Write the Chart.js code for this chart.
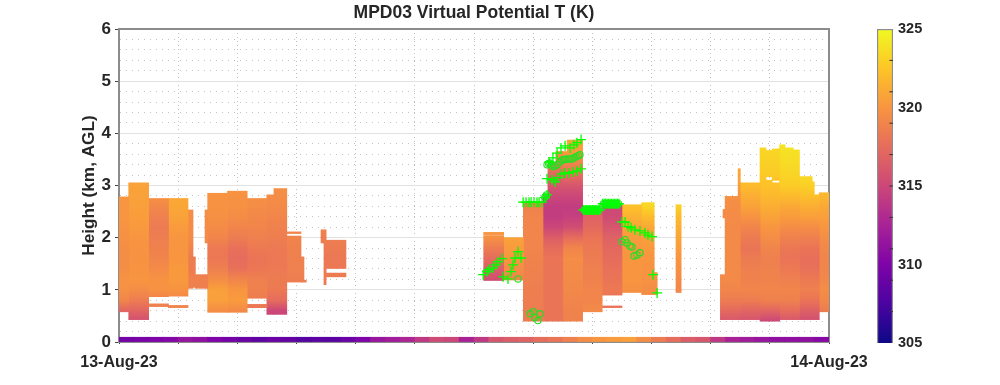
<!DOCTYPE html>
<html>
<head>
<meta charset="utf-8">
<script src="https://cdn.jsdelivr.net/npm/chart.js@4/dist/chart.umd.min.js"></script>
<style>
html,body{margin:0;padding:0;background:#fff;overflow:hidden}
#wrap{position:relative;width:1000px;height:385px}
#mainChart{position:absolute;left:0;top:0}
#barChart{position:absolute;left:860px;top:0}
</style>
</head>
<body>
<div id="wrap">
<canvas id="mainChart" width="948" height="385"></canvas>
<canvas id="barChart" width="140" height="385"></canvas>
</div>
<script>
// temperature nodes (K) of each profile, at 0.4, 0.6, ... 4.0 km
const heightNodes=[0.4,0.6,0.8,1.0,1.2,1.4,1.6,1.8,2.0,2.2,2.4,2.6,2.8,3.0,3.2,3.4,3.6,3.8,4.0];
const profiles=[
[null,317,319,319.7,319.8,319.6,319.5,319.6,319.7,319.9,320,320,320,320.2],
[315.5,317,318.5,319.5,320,319.9,319.8,319.9,320,320.2,320.4,320.5,320.6,320.7],
[null,null,318.7,319.8,319.8,319.4,319,318.8,318.6,318.4,318.7,319.2,319.8],
[null,null,319,319.8,320.2,320.2,320,320,320,320.3,320.7,320.9,321],
[null,null,null,318.6,318.8,318.5,318.5,319,319.3,319.4,319.5,319.6],
[null,319.5,320.5,320.5,319.5,318.7,318.2,318.3,319,319.4,319.7,319.8,319.9,320],
[null,319.3,320.3,320,319,317.8,317.5,317.8,318.5,319,319.5,319.7,319.8,320],
[null,318,318.5,318.8,318.7,318.2,318,318.3,318.7,319,319.2,319.5,319.7],
[null,315,317.5,318.3,318.5,318.3,318.2,318.3,318.6,318.8,319,319.3,319.5,319.7],
[null,null,null,318.4,318.6,318.7,318.7,318.8,319,319],
[null,null,null,318.3,318.5,318.3,318.2,318.4,318.6,319],
[null,null,null,null,315.5,316.5,317.5,318.5,319.7,320.3],
[null,null,null,null,319,319.5,320,320.3,320.7],
[318.5,318.5,318.6,318.6,318.7,318.8,318.9,319,319,319,319,318.8,318.7],
[318,318,318,318,318,318,318,317.5,316.5,315,314.3,314.3,315,316,317,318.5,319.5],
[318.8,318.9,319,319.2,319.3,319.4,319.5,319,317.5,315.5,314.5,314.3,315,316,317.5,318.8,320,320.7,320.9],
[null,319.3,319,319,318.8,318.7,318.5,318.3,318,317.3,316.8,316.5],
[null,318,318,318.3,318,317.8,317.5,317.2,316.8,316,315.3,315],
[null,null,null,319.7,320,320,320,320.1,320.3,320.8,321.5,322.3],
[null,null,null,319.5,319.8,319.9,320,320.2,320.5,321,322,323.3,323.8],
[null,null,null,319.2,319.4,319.7,320,320.4,320.8,321.3,322,323],
[316,317.3,318.5,319,319.3,319.3,319.3,319.3,319.3,319.3,319.4,319.5,319.7,320.5,320.8],
[315.8,317,318.5,319,318.8,318.7,318.4,318,318.4,319,319.8,320.7,321.3,322],
[315,317,318.8,319,318.9,318.8,318.7,319,319.5,320,320.7,321.3,321.8,322.3,322.7,323,323.2,323.3],
[316,317.5,318.7,319,318.7,318.3,318,318.2,318.8,319.5,320.3,321,322,322.8,323.2,323.5,323.8,324],
[315.5,316.7,318,318.7,318.3,317.8,317.7,318,318.7,319.5,320.5,321.3,322.2,323,323.5],
[null,318.5,319.2,319.5,319.2,319,319,319.2,319.5,320,320.5,321,321.7,322]
];
// curtain sections: time span (h), height span (km) and the profile they show
const sectionFrom=[0,.33,1,1,1.67,1.67,2.33,2.5,2.58,2.91,2.91,3,3.67,4.33,4.33,5,5.24,5.67,5.67,6.15,6.25,6.83,6.93,7,7,12.33,12.33,13,13.67,14.33,14.5,14.77,15,15.15,15.67,16.33,16.33,17,17.67,18.09,18.83,20.33,20.42,20.49,20.93,21,21.67,21.87,21.87,22.08,22.08,22.33,22.51,22.79,23,23.43,23.5,23.67];
const sectionTo=[.33,1,1.67,1.67,2.33,2.33,2.5,2.58,2.91,3,3,3.67,4.33,5,5,5.24,5.67,6.15,6.15,6.25,6.33,7,7,7.67,7.67,13,13,13.67,14.33,14.5,14.77,15,15.15,15.67,16.33,17,17,17.67,18.09,18.19,19,20.49,20.49,20.93,21,21.67,21.87,22.08,22.08,22.33,22.33,22.51,22.79,23,23.43,23.5,23.67,24];
const sectionBottom=[.58,.43,.87,.68,.88,.66,1.03,1.05,1.03,1.03,1.9,.57,.57,.84,.66,.53,.53,1.15,2.08,1.15,1.15,1.9,1.1,1.41,1.25,1.18,2.06,1.19,.4,.4,.4,.4,.4,.4,.58,.9,.66,.95,.91,.91,.95,.43,2.38,.43,.43,.43,.39,.39,3.17,.39,3.1,.43,.43,.43,.43,.43,.43,.58];
const sectionTop=[2.78,3.05,2.75,.73,2.75,.7,2.53,1.63,1.29,1.29,2.53,2.85,2.89,2.75,.72,2.82,2.94,2.03,2.11,1.63,1.18,2.15,1.9,1.95,1.32,2.04,2.1,2,2.68,2.8,3.45,3.65,3.65,3.87,2.55,2.63,.69,2.63,2.67,1.33,2.63,1.29,2.54,2.79,3.32,3.05,3.72,3.1,3.67,3.05,3.7,3.78,3.72,3.68,3.17,3.07,2.82,2.86];
const sectionProfile=[0,1,2,2,3,3,4,4,4,4,4,5,6,7,7,8,8,9,9,9,9,10,10,10,10,11,11,12,13,14,14,14,15,15,16,17,17,18,19,19,20,21,21,21,21,22,23,23,23,23,23,24,24,24,25,25,25,26];
// lowest 0.09 km, one value per half hour
const surfaceTemps=[309.5,309.7,310,310.3,311.3,311,310,309.5,309,308.5,309,308.7,308,308.3,308.2,309,310,311.5,312,312.7,314,315.3,315,312.5,314,316,316.5,316.8,317.5,318,318.7,319.5,320,320.3,320.5,319.5,318.5,317.5,316.5,316,314,312.5,312,311.5,311,311,311,310.5];
// green markers: hour, km
const plusHours=[13.66,13.76,13.86,13.93,14.03,14.13,14.2,14.3,14.4,14.47,14.47,14.64,14.74,14.84,14.97,15.08,15.21,15.35,15.48,15.62,14.54,14.67,14.81,14.94,15.08,15.25,15.38,15.48,15.62,15.7,15.75,15.8,15.85,15.9,15.95,16,16.05,16.1,16.15,16.2,16.25,16.35,16.4,16.45,16.5,16.55,16.6,16.65,16.7,16.75,16.8,16.85,16.9,17,17.11,17.21,17.31,17.44,17.61,17.78,17.88,18.02,18.05,18.19,12.31,12.44,12.51,12.64,12.74,12.81,12.95,13.49,13.39,13.59,13.32,13.25,12.98,13.15];
const plusKm=[2.68,2.68,2.68,2.68,2.68,2.68,2.68,2.68,2.77,2.82,3.13,3.11,3.07,3.15,3.22,3.24,3.24,3.26,3.28,3.32,3.45,3.53,3.62,3.72,3.76,3.72,3.78,3.82,3.88,2.53,2.53,2.53,2.53,2.53,2.53,2.53,2.53,2.53,2.53,2.53,2.53,2.65,2.65,2.65,2.65,2.65,2.65,2.65,2.65,2.65,2.65,2.65,2.65,2.3,2.3,2.21,2.19,2.15,2.13,2.09,2.05,2.02,1.29,.94,1.29,1.35,1.39,1.42,1.48,1.54,1.6,1.73,1.61,1.61,1.48,1.35,1.25,1.21];
const ringHours=[14.4,14.45,14.47,14.52,14.57,14.62,14.67,14.74,14.81,14.9,14.98,15.03,15.08,15.15,15.23,15.31,15.38,15.45,15.52,15.58,15.72,15.77,15.82,15.87,15.92,15.97,16.02,16.07,16.12,16.17,16.22,16.38,16.43,16.48,16.53,16.58,16.63,16.68,16.73,16.78,16.83,16.88,17,17.11,17.17,17.27,17.34,17.41,17.51,17.61,13.49,13.9,14,14.23,14.06,14.16];
const ringKm=[2.78,2.82,3.4,3.42,3.43,3.4,3.36,3.38,3.4,3.45,3.49,3.5,3.5,3.51,3.51,3.51,3.53,3.55,3.57,3.59,2.53,2.53,2.53,2.53,2.53,2.53,2.53,2.53,2.53,2.53,2.53,2.65,2.65,2.65,2.65,2.65,2.65,2.65,2.65,2.65,2.65,2.65,1.92,1.96,1.9,1.84,1.82,1.65,1.67,1.71,1.21,.54,.58,.54,.47,.41];
// colour bar
const barTicks=[305,310,315,320,325];
const barMinorTicks=[307,309,311,313,315,317,319,321,323];

const colorStops=['#0d0887','#4b03a1','#7e03a8','#a82296','#cc4778','#e66c5c','#f89540','#fdc527','#f0f921'];
const hexRgb=h=>[1,3,5].map(i=>parseInt(h.slice(i,i+2),16));
function tempColor(t){
  const f=Math.min(Math.max((t-305)/20,0),1)*(colorStops.length-1);
  const i=Math.min(Math.floor(f),colorStops.length-2), a=hexRgb(colorStops[i]), b=hexRgb(colorStops[i+1]);
  return 'rgb('+a.map((c,k)=>Math.round(c+(b[k]-c)*(f-i))).join(',')+')';
}

const PLOT_WIDTH=710, HOUR_PX=PLOT_WIDTH/24;
const axisGrey='#8c8c8c', textDark='#262626', FONT='"Liberation Sans", Arial, sans-serif';
const isWhole=v=>Math.abs(v-Math.round(v))<1e-6;

function rowFill(c){
  if(c.type!=='data'||!c.raw) return '#fff';
  const y=c.chart.scales.y, r=c.raw;
  const p0=y.getPixelForValue(r.km0), p1=y.getPixelForValue(r.km1);
  if(!isFinite(p0)||!isFinite(p1)) return tempColor(r.t0); // scale not laid out yet
  const g=c.chart.ctx.createLinearGradient(0,p0,0,p1);
  g.addColorStop(0,tempColor(r.t0)); g.addColorStop(1,tempColor(r.t1));
  return g;
}

const sectionSets=sectionFrom.map((from,s)=>{
  const to=sectionTo[s], p=profiles[sectionProfile[s]], rows=[];
  for(let i=0;i<heightNodes.length-1;i++){
    const lo=Math.max(sectionBottom[s],heightNodes[i]), hi=Math.min(sectionTop[s],heightNodes[i+1]);
    if(lo>=hi) continue;
    const a=p[i]??p[i+1]??p[i+2]??p[i+3], b=p[i+1]??a;
    rows.push({x:(from+to)/2,y:[lo,hi],km0:heightNodes[i],km1:heightNodes[i+1],t0:a,t1:b});
  }
  return {type:'bar',data:rows,barThickness:(to-from)*HOUR_PX,backgroundColor:rowFill,inflateAmount:0.4,grouped:false,order:2};
});
const surfaceSet={type:'bar',data:surfaceTemps.map((t,i)=>({x:i/2+0.25,y:[0,0.09]})),backgroundColor:surfaceTemps.map(tempColor),barThickness:HOUR_PX/2,inflateAmount:0.4,grouped:false,order:2};
const plusSet={type:'scatter',data:plusHours.map((h,i)=>({x:h,y:plusKm[i]})),pointStyle:'cross',radius:5,borderColor:'#00ff00',backgroundColor:'#00ff00',borderWidth:1.3,order:0};
const ringSet={type:'scatter',data:ringHours.map((h,i)=>({x:h,y:ringKm[i]})),pointStyle:'circle',radius:3.2,borderColor:'#22e022',backgroundColor:'rgba(0,0,0,0)',borderWidth:1.1,order:1};

const fixHeight=h=>s=>{s.height=h;s.paddingLeft=0;s.paddingRight=0;};
const fixWidth=w=>s=>{s.width=w;s.paddingTop=0;s.paddingBottom=0;};
const hourTicks=s=>{s.ticks=[0,2,4,6,8,10,12,14,16,18,20,22,24].map(v=>({value:v}));};

new Chart(document.getElementById('mainChart'),{
  type:'bar',
  data:{datasets:[...sectionSets,surfaceSet,ringSet,plusSet]},
  options:{
    responsive:false,animation:false,
    plugins:{legend:{display:false},tooltip:{enabled:false},
      title:{display:true,text:'MPD03 Virtual Potential T (K)',color:textDark,font:{family:FONT,size:17.5,weight:'bold'},padding:{top:3,bottom:5}}},
    scales:{
      x:{type:'linear',min:0,max:24,offset:false,position:'bottom',afterFit:fixHeight(43),afterBuildTicks:hourTicks,
        grid:{offset:false,color:'#c0c0c0',tickColor:'#444',tickLength:2,tickBorderDash:[]},
        border:{color:axisGrey,width:2,dash:[1,3]},
        ticks:{autoSkip:false,maxRotation:0,padding:9,color:textDark,font:{family:FONT,size:16,weight:'bold'},
          callback:v=>v===0?'13-Aug-23':v===24?'14-Aug-23':''}},
      xTop:{type:'linear',min:0,max:24,position:'top',afterFit:fixHeight(0),afterBuildTicks:hourTicks,
        grid:{drawOnChartArea:false,drawTicks:false},border:{color:axisGrey,width:2},ticks:{display:false}},
      y:{type:'linear',min:0,max:6,position:'left',afterFit:fixWidth(119),
        grid:{color:c=>isWhole(c.tick.value)?'#e2e2e2':'#c4c4c4',tickColor:c=>isWhole(c.tick.value)?'#444':'rgba(0,0,0,0)',tickLength:4,tickBorderDash:[]},
        border:{color:axisGrey,width:2,dash:c=>isWhole(c.tick.value)?[]:[1,5]},
        ticks:{stepSize:0.2,autoSkip:false,padding:4,color:textDark,font:{family:FONT,size:17,weight:'bold'},
          callback:v=>isWhole(v)?String(Math.round(v)):''},
        title:{display:true,text:'Height (km, AGL)',color:textDark,font:{family:FONT,size:17.2,weight:'bold'},padding:{top:79,bottom:0}}},
      yRight:{type:'linear',min:0,max:6,position:'right',afterFit:fixWidth(119),
        grid:{drawOnChartArea:false,drawTicks:false},border:{color:axisGrey,width:2},ticks:{display:false}}
    }
  }
});

new Chart(document.getElementById('barChart'),{
  type:'bar',
  data:{datasets:[
    {type:'scatter',data:barMinorTicks.map(v=>({x:0.9,y:v})),pointStyle:'line',radius:2,borderColor:'#333',borderWidth:1,order:0},
    {type:'bar',data:[{x:0.5,y:[305,325]}],barThickness:16,grouped:false,borderColor:axisGrey,borderWidth:1.5,order:1,
      backgroundColor:c=>{
        const y=c.chart.scales.y, p0=y.getPixelForValue(305), p1=y.getPixelForValue(325);
        if(!isFinite(p0)||!isFinite(p1)) return colorStops[0];
        const g=c.chart.ctx.createLinearGradient(0,p0,0,p1);
        colorStops.forEach((col,i)=>g.addColorStop(i/(colorStops.length-1),col));
        return g;
      }}
  ]},
  options:{
    responsive:false,animation:false,
    layout:{padding:{left:17,top:29,bottom:42,right:67}},
    plugins:{legend:{display:false},tooltip:{enabled:false}},
    scales:{
      x:{type:'linear',min:0,max:1,offset:false,display:false,grid:{offset:false}},
      y:{type:'linear',min:305,max:325,position:'right',afterFit:fixWidth(40),
        afterBuildTicks:s=>{s.ticks=barTicks.map(v=>({value:v}));},
        grid:{display:false,drawTicks:false},border:{display:false},
        ticks:{padding:5,color:textDark,font:{family:FONT,size:14.5,weight:'bold'}}}
    }
  }
});
</script>
</body>
</html>
